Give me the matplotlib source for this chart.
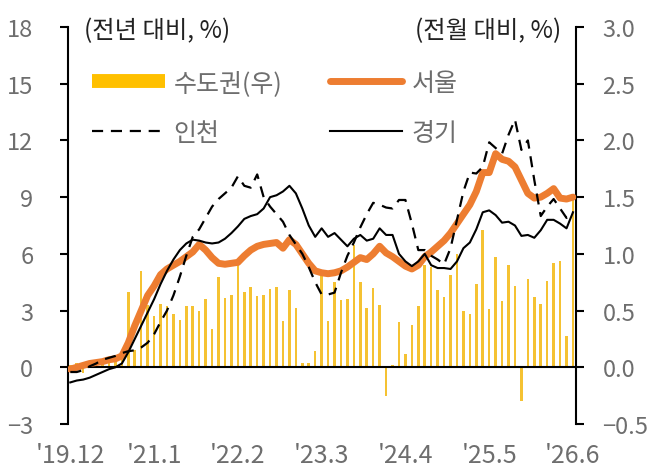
import matplotlib
matplotlib.use("Agg")
import matplotlib.pyplot as plt
from matplotlib.lines import Line2D
import numpy as np

plt.rcParams['font.family'] = ['Noto Sans CJK KR', 'DejaVu Sans']
plt.rcParams['axes.unicode_minus'] = True

# monthly, '19.12 ~ '26.6 (79 points)
tick_labels = ["'19.12", "'21.1", "'22.2", "'23.3", "'24.4", "'25.5", "'26.6"]

# 수도권 전월 대비 (%, right axis)
capital_mom = [0.02, 0.04, -0.05, 0.03, 0.05, 0.06, 0.07, 0.05, 0.08, 0.66,
               0.15, 0.85, 0.55, 0.45, 0.56, 0.54, 0.47, 0.42, 0.54, 0.54,
               0.50, 0.60, 0.34, 0.80, 0.61, 0.64, 0.90, 0.66, 0.71, 0.63,
               0.64, 0.69, 0.71, 0.41, 0.68, 0.52, 0.04, 0.035, 0.14, 0.81,
               0.41, 0.75, 0.59, 0.60, 1.08, 0.75, 0.52, 0.70, 0.55, -0.25,
               0.02, 0.40, 0.12, 0.37, 0.54, 0.90, 0.88, 0.68, 0.62, 0.81,
               1.00, 0.50, 0.47, 0.73, 1.21, 0.51, 0.97, 0.58, 0.90, 0.72,
               -0.30, 0.78, 0.62, 0.56, 0.76, 0.92, 0.94, 0.28, 1.50]

# 전년 대비 (%, left axis)
seoul = [-0.1, 0.0, 0.1, 0.2, 0.25, 0.3, 0.4, 0.45, 0.6, 1.3,
         2.2, 3.0, 3.8, 4.3, 4.9, 5.2, 5.4, 5.6, 5.85, 6.1,
         6.5, 6.2, 5.8, 5.5, 5.45, 5.5, 5.55, 5.9, 6.2, 6.4,
         6.5, 6.55, 6.6, 6.3, 6.75, 6.5, 6.0, 5.5, 5.1, 5.0,
         4.95, 5.0, 5.1, 5.3, 5.55, 5.8, 5.7, 6.0, 6.4, 6.05,
         5.85, 5.6, 5.35, 5.2, 5.4, 5.85, 6.1, 6.4, 6.7, 7.1,
         7.6, 8.1, 8.6, 9.3, 10.3, 10.3, 11.3, 11.0, 10.9, 10.6,
         9.9, 9.2, 8.95, 9.0, 9.2, 9.45, 8.95, 8.9, 9.0]

incheon = [-0.25, -0.25, -0.15, 0.05, 0.2, 0.4, 0.5, 0.6, 0.75, 0.85,
           0.9, 1.05, 1.3, 1.75, 2.4, 3.0, 3.8, 4.8, 5.9, 6.9,
           7.3, 7.9, 8.5, 8.9, 9.2, 9.5, 10.1, 9.6, 9.5, 10.2,
           9.0, 8.5, 8.1, 7.7, 7.0, 6.5, 6.0, 5.3, 4.5, 3.85,
           3.85, 3.95, 5.0, 5.9, 6.6, 7.4, 8.1, 8.7, 8.6, 8.45,
           8.4, 8.85, 8.85, 7.6, 6.2, 6.2, 5.9, 5.7, 5.45, 6.3,
           7.8, 9.3, 10.3, 10.25, 10.6, 11.9, 11.6, 11.3, 12.3, 13.1,
           11.5, 12.0, 9.9, 8.0, 8.5, 8.9, 8.4, 7.9, 8.2]

gyeonggi = [-0.8, -0.7, -0.65, -0.55, -0.4, -0.25, -0.1, 0.0, 0.2, 0.8,
            1.5, 2.2, 2.9, 3.6, 4.4, 5.1, 5.7, 6.2, 6.55, 6.75,
            6.7, 6.6, 6.55, 6.6, 6.8, 7.1, 7.45, 7.85, 8.0, 8.1,
            8.4, 9.0, 9.1, 9.3, 9.6, 9.2, 8.4, 7.5, 6.9, 7.35,
            6.9, 7.1, 6.75, 6.4, 6.8, 7.0, 6.7, 6.8, 7.35, 7.0,
            7.0, 6.0, 5.6, 5.35, 5.6, 6.0, 5.4, 5.25, 5.25, 5.2,
            5.6, 6.3, 6.6, 7.3, 8.2, 8.3, 8.05, 7.65, 7.7, 7.5,
            6.95, 7.0, 6.85, 7.25, 7.8, 7.8, 7.6, 7.35, 8.2]

x = np.arange(len(seoul))
tick_pos = x[::13]

gold = '#FFC000'
bar_gold = '#F5C232'
orange = '#ED7D31'
gray = '#6E6E6E'

fig = plt.figure(figsize=(6.58, 4.77), dpi=100)
ax = fig.add_axes([68/658, 1-425/477, (576-68)/658, (425-28)/477])
ax2 = ax.twinx()
ax.set_zorder(2)
ax2.set_zorder(1)
ax.patch.set_visible(False)

ax2.bar(x, capital_mom, width=0.4, color=bar_gold, edgecolor='none')
ax.axhline(0, color='black', lw=1.5, zorder=1)
ax.plot(x, seoul, color=orange, lw=5, solid_capstyle='round', zorder=3)
ax.plot(x, incheon, color='black', lw=1.6, ls=(0, (5, 3.5)), zorder=4)
ax.plot(x, gyeonggi, color='black', lw=1.5, zorder=4)

ax.set_xlim(-0.36, 78.47)
ax.set_ylim(-3, 18)
ax.set_yticks(range(-3, 19, 3))
ax2.set_ylim(-0.5, 3.0)
ax2.set_yticks(np.arange(-0.5, 3.01, 0.5))
ax2.set_yticklabels([f"{v:.1f}".replace('-', '\u2212') for v in np.arange(-0.5, 3.01, 0.5)])
ax.set_xticks(tick_pos)
ax.set_xticklabels(tick_labels)

for a in (ax, ax2):
    for s in ('top', 'bottom'):
        a.spines[s].set_visible(False)
    a.spines['left'].set_linewidth(1.5)
    a.spines['right'].set_linewidth(1.5)
ax.spines['right'].set_visible(False)
ax2.spines['left'].set_visible(False)

ax.tick_params(axis='y', direction='out', length=6, width=1.5, pad=19,
               labelsize=17, labelcolor=gray)
ax2.tick_params(axis='y', direction='out', length=6, width=1.5, pad=13,
                labelsize=17, labelcolor=gray)
ax.tick_params(axis='x', length=0, pad=13, labelsize=18, labelcolor=gray)

fig.text(84/658, 1-31/477, '(전년 대비, %)', fontsize=17.5, color='#222222',
         ha='left', va='center')
fig.text(561/658, 1-31/477, '(전월 대비, %)', fontsize=17.5, color='#222222',
         ha='right', va='center')

handles = [Line2D([], [], color=gold, lw=10, solid_capstyle='butt'),
           Line2D([], [], color='black', lw=1.6, ls=(0, (5, 3.5))),
           Line2D([], [], color=orange, lw=5, solid_capstyle='round'),
           Line2D([], [], color='black', lw=1.5)]
labels = ['수도권(우)', '인천', '서울', '경기']
leg = ax.legend(handles, labels, ncol=2, loc='upper left',
                bbox_to_anchor=(92/658, 1-71/477), bbox_transform=fig.transFigure,
                frameon=False, fontsize=18, handlelength=2.9, handletextpad=0.36,
                columnspacing=1.9, labelspacing=0.95, borderpad=0, borderaxespad=0)
for t in leg.get_texts():
    t.set_color(gray)

fig.savefig('out.png', dpi=100)
